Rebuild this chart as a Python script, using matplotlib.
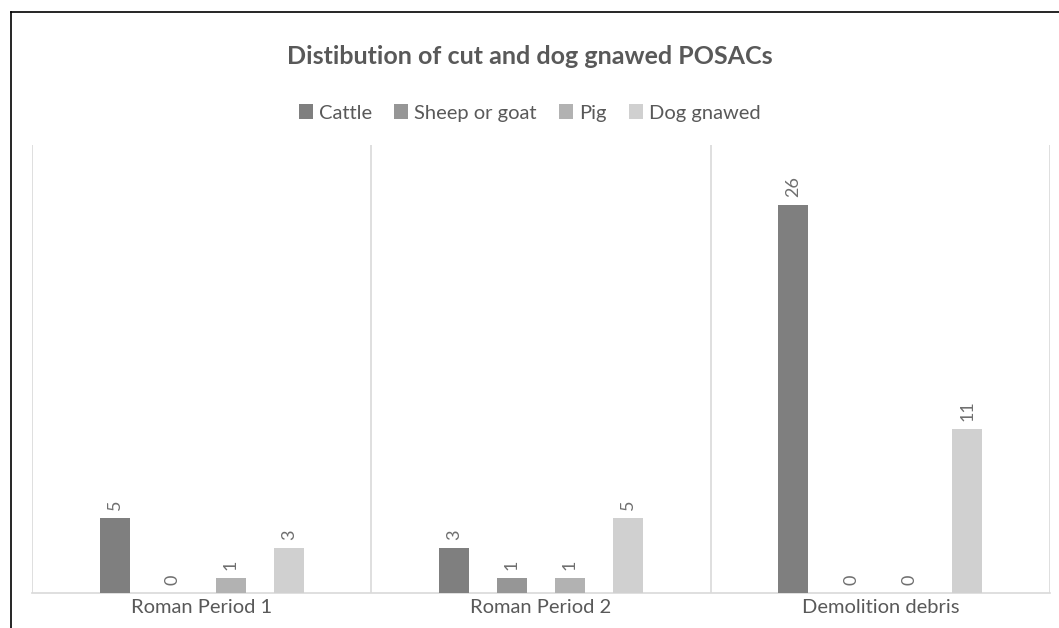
import matplotlib
matplotlib.use("Agg")
import matplotlib.pyplot as plt
from matplotlib.lines import Line2D
from matplotlib.patches import Patch
import numpy as np

categories = ["Roman Period 1", "Roman Period 2", "Demolition debris"]
series_names = ["Cattle", "Sheep or goat", "Pig", "Dog gnawed"]
cattle = [5, 3, 26]
sheep_or_goat = [0, 1, 0]
pig = [1, 1, 0]
dog_gnawed = [3, 5, 11]
series_values = [cattle, sheep_or_goat, pig, dog_gnawed]
colors = ["#7f7f7f", "#969696", "#b2b2b2", "#d0d0d0"]
text_color = "#595959"

plt.rcParams["font.family"] = ["Lato", "DejaVu Sans"]

W, H = 1059, 628
fig = plt.figure(figsize=(W / 100, H / 100), dpi=100)
ax = fig.add_axes([32 / W, 35 / H, (1050 - 32) / W, (593 - 145) / H])

x = np.arange(len(categories))
bar_w = 0.088
step = 0.171
offsets = (np.arange(len(series_names)) - 1.5) * step
for vals, off, col in zip(series_values, offsets, colors):
    bars = ax.bar(x + off, vals, width=bar_w, color=col, zorder=3)
    for b, v in zip(bars, vals):
        ax.text(b.get_x() + b.get_width() / 2, v + 0.55, str(v), rotation=90,
                ha="center", va="bottom", fontsize=13, color="#6f6f6f")

ax.set_xlim(-0.5, len(categories) - 0.5)
ax.set_ylim(0, 30)
ax.set_yticks([])
ax.set_xticks(x)
ax.set_xticklabels(categories, fontsize=14.5, color=text_color)
ax.tick_params(axis="x", length=0, pad=4)
for s in ["top", "right", "left"]:
    ax.spines[s].set_visible(False)
ax.spines["bottom"].set_color("#d9d9d9")
ax.spines["bottom"].set_linewidth(1.2)
for b in np.arange(-0.5, len(categories), 1.0):
    ax.axvline(b, color="#d9d9d9", linewidth=1.2, zorder=1)

fig.text(0.5, 1 - 57 / H, "Distibution of cut and dog gnawed POSACs",
         ha="center", va="center", fontsize=18, fontweight="bold", color=text_color)

handles = [Patch(facecolor=c, edgecolor="none") for c in colors]
fig.legend(handles, series_names, loc="center", bbox_to_anchor=(0.5, 1 - 113 / H),
           ncol=4, frameon=False, fontsize=14.5, labelcolor=text_color,
           handlelength=0.7, handleheight=0.7, handletextpad=0.3, columnspacing=1.1)

# outer frame lines
fig.add_artist(Line2D([11 / W, 11 / W], [0, 1 - 12 / H], transform=fig.transFigure,
                      color="black", linewidth=1.2))
fig.add_artist(Line2D([11 / W, 1], [1 - 12 / H, 1 - 12 / H], transform=fig.transFigure,
                      color="black", linewidth=1.2))

fig.savefig("out.png", dpi=100)
